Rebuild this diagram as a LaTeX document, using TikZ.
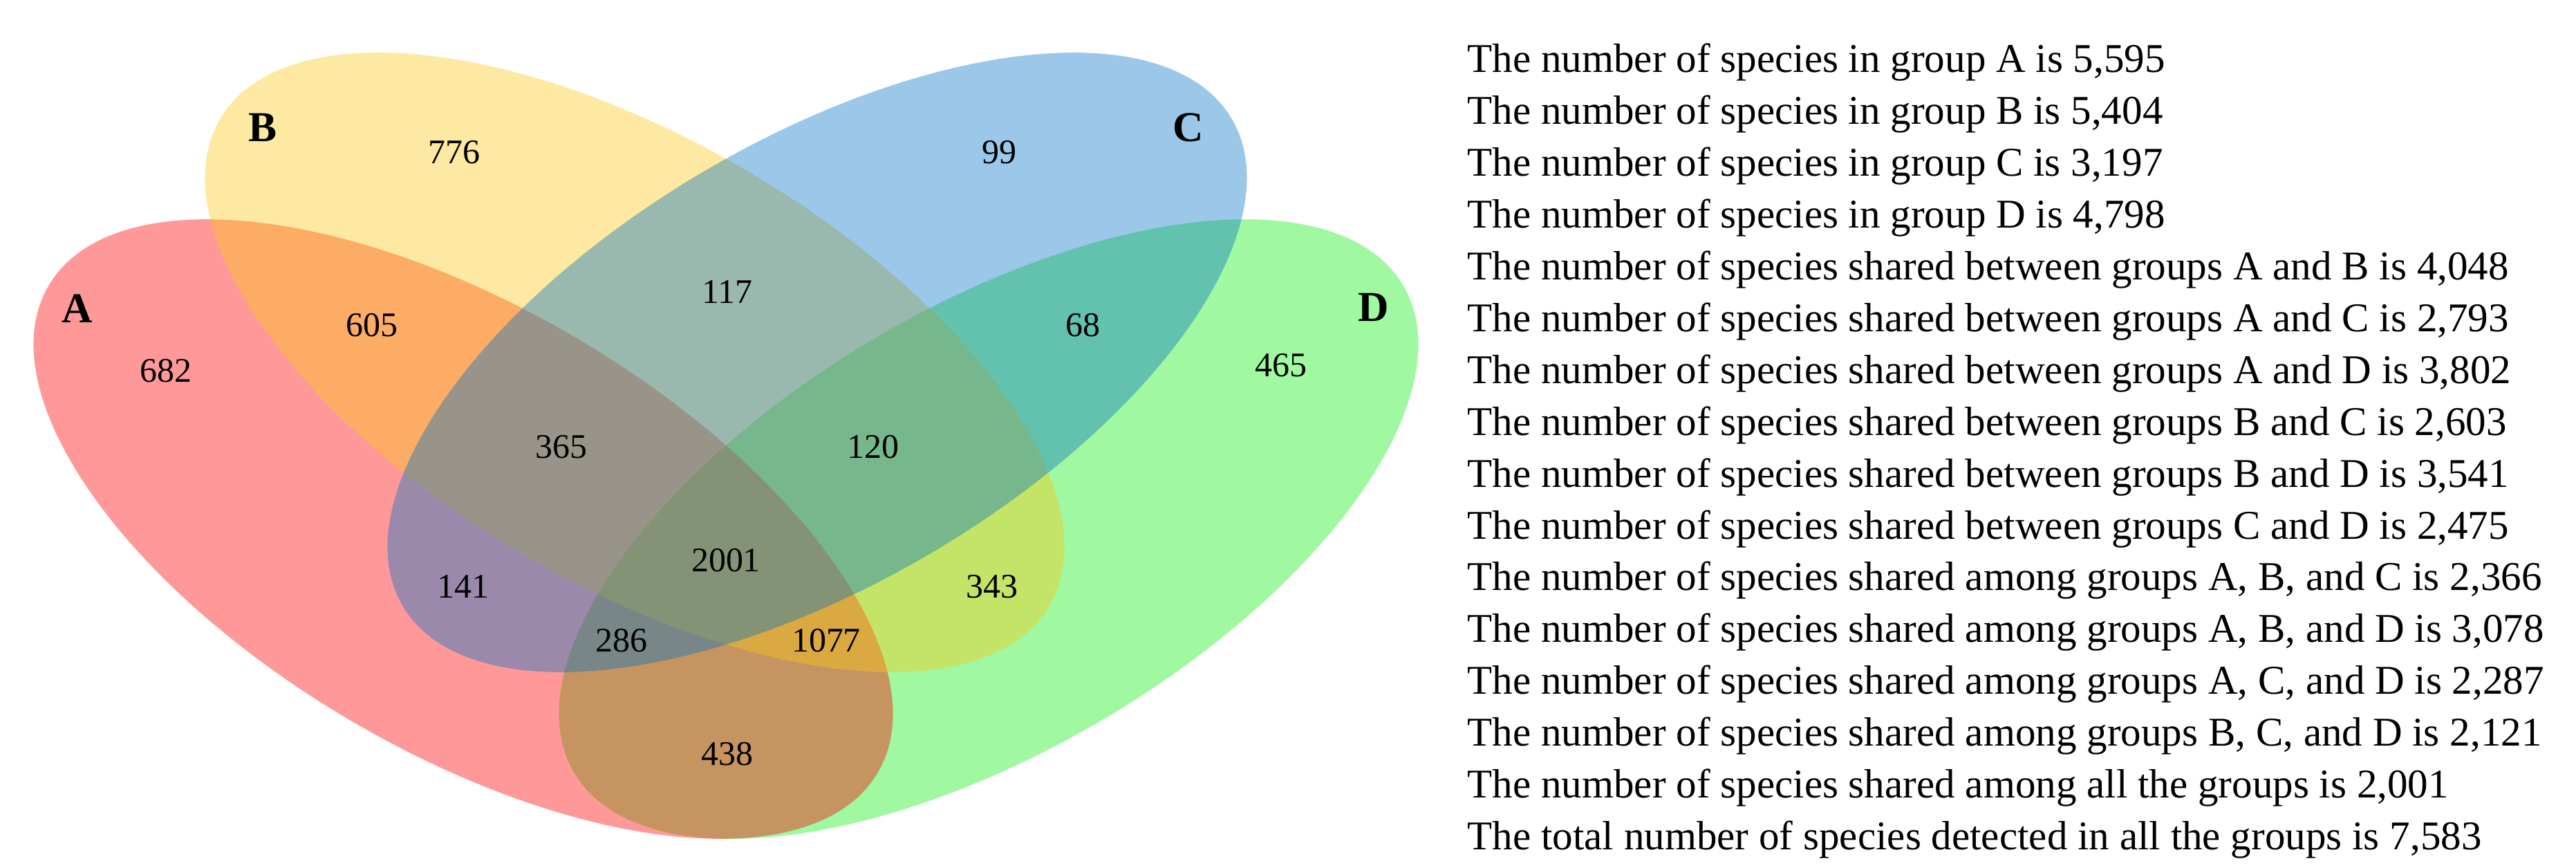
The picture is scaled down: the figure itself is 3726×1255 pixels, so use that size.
\documentclass[tikz,border=0pt]{standalone}
\usepackage{fontspec}
\setmainfont{Liberation Serif}
\usetikzlibrary{shapes.geometric}
\definecolor{setA}{RGB}{255,0,0}
\definecolor{setB}{RGB}{250,200,20}
\definecolor{setC}{RGB}{5,115,197}
\definecolor{setD}{RGB}{17,237,17}
\begin{document}
\begin{tikzpicture}[x=0.01cm, y=0.01cm,
  venn/.style={ellipse, minimum width=13.9cm, minimum height=6.42cm, inner sep=0pt, fill opacity=0.4},
  count/.style={font=\fontsize{14.2}{17}\selectfont},
  setname/.style={font=\fontsize{17.5}{21}\selectfont\bfseries},
  info/.style={anchor=base west, inner sep=0pt, font=\fontsize{16.8}{20}\selectfont}]
\useasboundingbox (0,0) rectangle (3726,1255);
% the four sets
\node[venn, fill=setD, rotate=30.4] (eD) at (1430,490){};
\node[venn, fill=setA, rotate=-30.4] (eA) at (670,490){};
\node[venn, fill=setB, rotate=-30.4] (eB) at (918,731){};
\node[venn, fill=setC, rotate=30.4] (eC) at (1182,731){};
\node[setname] (lA) at (112,809){A};
\node[setname] (lB) at (380,1071){B};
\node[setname] (lC) at (1719,1071){C};
\node[setname] (lD) at (1987,811){D};
% region counts
\node[count] (cA) at (240,719){682};
\node[count] (cB) at (657,1035){776};
\node[count] (cC) at (1445,1035){99};
\node[count] (cD) at (1853,727){465};
\node[count] (cAB) at (538,785){605};
\node[count] (cBC) at (1052,833){117};
\node[count] (cCD) at (1566,785){68};
\node[count] (cABC) at (812,609){365};
\node[count] (cBCD) at (1263,609){120};
\node[count] (cABCD) at (1050,445){2001};
\node[count] (cAC) at (670,407){141};
\node[count] (cBD) at (1435,407){343};
\node[count] (cACD) at (899,329){286};
\node[count] (cABD) at (1195,329){1077};
\node[count] (cAD) at (1052,165){438};
% summary
\node[info] (t0) at (2122,1150){The number of species in group A is 5,595};
\node[info] (t1) at (2122,1075.1){The number of species in group B is 5,404};
\node[info] (t2) at (2122,1000.2){The number of species in group C is 3,197};
\node[info] (t3) at (2122,925.3){The number of species in group D is 4,798};
\node[info] (t4) at (2122,850.4){The number of species shared between groups A and B is 4,048};
\node[info] (t5) at (2122,775.5){The number of species shared between groups A and C is 2,793};
\node[info] (t6) at (2122,700.6){The number of species shared between groups A and D is 3,802};
\node[info] (t7) at (2122,625.7){The number of species shared between groups B and C is 2,603};
\node[info] (t8) at (2122,550.8){The number of species shared between groups B and D is 3,541};
\node[info] (t9) at (2122,475.9){The number of species shared between groups C and D is 2,475};
\node[info] (t10) at (2122,401){The number of species shared among groups A, B, and C is 2,366};
\node[info] (t11) at (2122,326.1){The number of species shared among groups A, B, and D is 3,078};
\node[info] (t12) at (2122,251.2){The number of species shared among groups A, C, and D is 2,287};
\node[info] (t13) at (2122,176.3){The number of species shared among groups B, C, and D is 2,121};
\node[info] (t14) at (2122,101.4){The number of species shared among all the groups is 2,001};
\node[info] (t15) at (2122,26.5){The total number of species detected in all the groups is 7,583};
\end{tikzpicture}
\end{document}
